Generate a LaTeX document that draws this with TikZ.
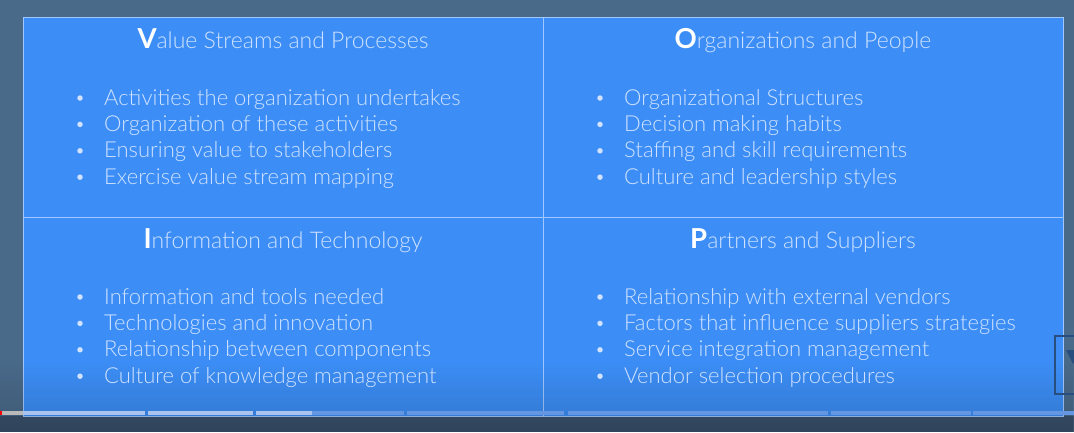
\documentclass[tikz,border=0pt]{standalone}
\usepackage{fontspec}
\setmainfont{Lato}[UprightFont={* Light}, BoldFont={* Bold}]
\usetikzlibrary{calc,fadings}
\definecolor{slate}{RGB}{74,106,138}
\definecolor{slatedark}{RGB}{58,82,108}
\definecolor{panel}{RGB}{60,142,246}
\definecolor{rule}{RGB}{160,200,255}
\definecolor{ink}{RGB}{208,226,255}
\definecolor{barlit}{RGB}{170,196,238}
\definecolor{bardim}{RGB}{100,150,225}
\definecolor{iconline}{RGB}{40,78,128}
\tikzset{
  title/.style={anchor=base, text=ink, font=\fontsize{23}{26}\selectfont, inner sep=0pt},
  item/.style={anchor=base west, text=ink, font=\fontsize{22}{26}\selectfont, inner sep=0pt},
  dot/.style={circle, fill=ink, inner sep=0pt, minimum size=5.5pt},
  grid line/.style={draw=rule, line width=1pt},
}
\newcommand{\initial}[1]{{\color{white}\fontsize{27.5}{30}\selectfont\bfseries #1}}
\begin{document}
\begin{tikzpicture}[x=1pt,y=-1pt]
\useasboundingbox (0,0) rectangle (1074,432);
% page background
\fill[slate] (0,0) rectangle (1074,432);
\fill[slatedark] (0,416) rectangle (1074,432);
% the four panels
\fill[panel] (23,17) rectangle (1063,416);
\draw[grid line] (23,17) rectangle (1063,416);
\draw[grid line] (543,17) -- (543,416);
\draw[grid line] (23,217) -- (1063,217);
% soft darkening towards the bottom edge
\fill[black, opacity=0.16, path fading=north] (0,360) rectangle (1074,432);

% titles
\node[title] (tv) at (283,48) {\initial{V}alue Streams and Processes};
\node[title] (to) at (803,48) {\initial{O}rganizations and People};
\node[title] (ti) at (283,248) {\initial{I}nformation and Technology};
\node[title] (tp) at (803,248) {\initial{P}artners and Suppliers};

% bullet lists
\foreach \txt [count=\i] in {Activities the organization undertakes, Organization of these activities, Ensuring value to stakeholders, Exercise value stream mapping}{
  \node[item] (v\i) at (104,{105+26.4*(\i-1)}) {\txt};
  \node[dot] (vb\i) at (80,{98+26.4*(\i-1)}) {};
}
\foreach \txt [count=\i] in {Organizational Structures, Decision making habits, Staffing and skill requirements, Culture and leadership styles}{
  \node[item] (o\i) at (624,{105+26.4*(\i-1)}) {\txt};
  \node[dot] (ob\i) at (600,{98+26.4*(\i-1)}) {};
}
\foreach \txt [count=\i] in {Information and tools needed, Technologies and innovation, Relationship between components, Culture of knowledge management}{
  \node[item] (i\i) at (104,{304+26.4*(\i-1)}) {\txt};
  \node[dot] (ib\i) at (80,{297+26.4*(\i-1)}) {};
}
\foreach \txt [count=\i] in {Relationship with external vendors, Factors that influence suppliers strategies, Service integration management, Vendor selection procedures}{
  \node[item] (p\i) at (624,{304+26.4*(\i-1)}) {\txt};
  \node[dot] (pb\i) at (600,{297+26.4*(\i-1)}) {};
}

% corner control, cut off by the right edge
\begin{scope}
\clip (0,0) rectangle (1074,432);
\draw[iconline, line width=2pt] (1055,336) rectangle (1090,394);
\fill[iconline] (1066,350) -- (1080,350) -- (1073,364) -- cycle;
\end{scope}

% progress bar with chapter gaps
\fill[gray!55] (0,411) rectangle (23,415);
\fill[barlit] (23,411) rectangle (145,415);
\fill[barlit] (148,411) rectangle (253,415);
\fill[barlit] (256,411) rectangle (312,415);
\fill[bardim] (312,411) rectangle (404,415);
\fill[bardim] (407,411) rectangle (564,415);
\fill[bardim] (568,411) rectangle (828,415);
\fill[bardim] (831,411) rectangle (971,415);
\fill[bardim] (973,411) rectangle (1074,415);
\fill[red] (0,411) rectangle (2,415);
\end{tikzpicture}
\end{document}
